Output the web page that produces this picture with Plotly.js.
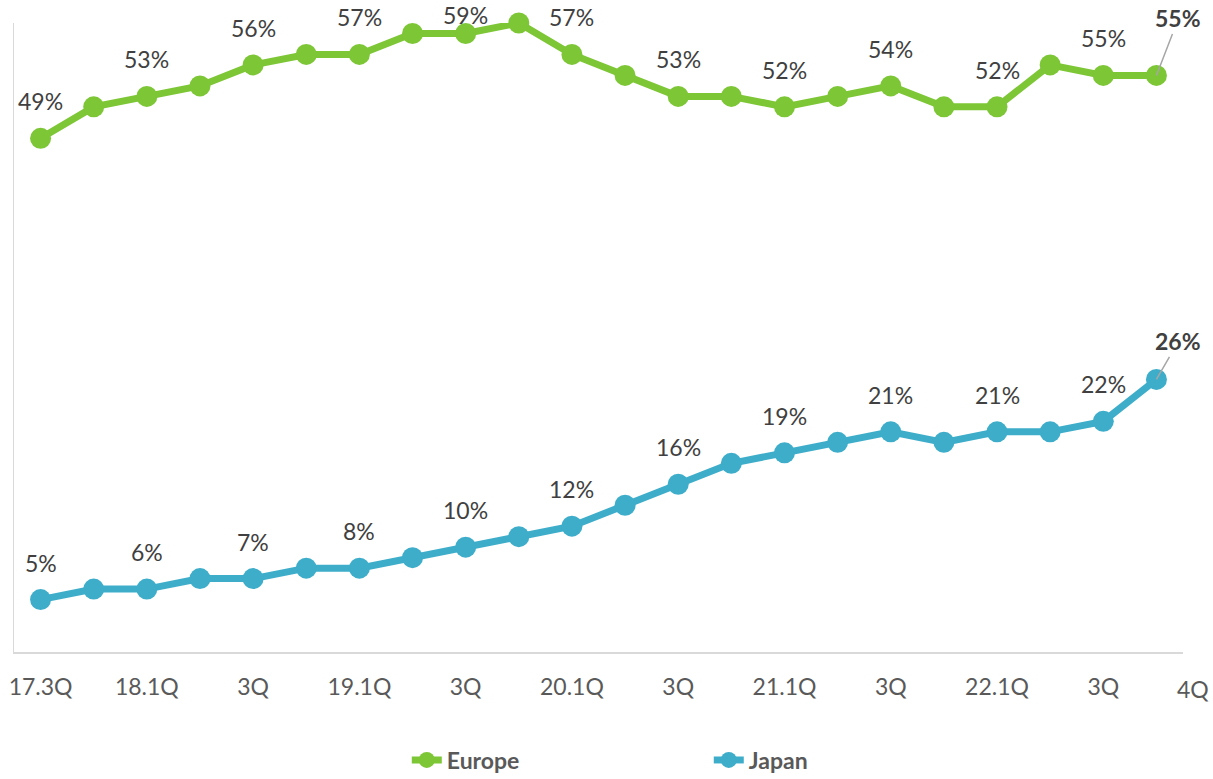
<!DOCTYPE html>
<html>
<head>
<meta charset="utf-8">
<script src="https://cdn.plot.ly/plotly-3.0.1.min.js"></script>
<style>html,body{margin:0;padding:0;background:#fff;}#chart{width:1213px;height:779px;}</style>
</head>
<body>
<div id="chart"></div>
<script>
var quarters = ["17.3Q","17.4Q","18.1Q","18.2Q","18.3Q","18.4Q","19.1Q","19.2Q","19.3Q","19.4Q","20.1Q","20.2Q","20.3Q","20.4Q","21.1Q","21.2Q","21.3Q","21.4Q","22.1Q","22.2Q","22.3Q","22.4Q"];
var tickLabels = ["17.3Q","","18.1Q","","3Q","","19.1Q","","3Q","","20.1Q","","3Q","","21.1Q","","3Q","","22.1Q","","3Q","4Q"];
var europe = [49,52,53,54,56,57,57,59,59,60,57,55,53,53,52,53,54,52,52,56,55,55];
var japan  = [5,6,6,7,7,8,8,9,10,11,12,14,16,18,19,20,21,20,21,21,22,26];

var GREEN = "#7DC636", BLUE = "#3DADCA";
var FONT = "Lato, 'Open Sans', sans-serif";
var LABEL_COLOR = "#404040";

var idx = quarters.map(function(_, i){ return i; });

var M = {l:14, r:30, t:23, b:127};
var yMax = 60;
var plotH = 779 - M.t - M.b;
function pyOf(v){ return M.t + (yMax - v) / yMax * plotH; }

var annotations = [];
function addLabels(vals){
  var last = vals.length - 1;
  vals.forEach(function(v, i){
    if (i % 2 === 0 && i !== last) {
      var py = pyOf(v);
      var shift = Math.min(37, py - 15);
      annotations.push({x:i, y:v, xref:"x", yref:"y", text:v+"%", showarrow:false,
        yshift:shift, xanchor:"center", yanchor:"middle",
        font:{family:FONT, size:23, color:LABEL_COLOR}});
    }
  });
  annotations.push({x:last, y:vals[last], xref:"x", yref:"y", text:"<b>"+vals[last]+"%</b>",
    showarrow:true, arrowhead:0, arrowwidth:1.5, arrowcolor:"#A6A6A6",
    ax: 22, ay: (vals === europe ? -57 : -38), standoff:0, startstandoff:0,
    font:{family:FONT, size:23, color:LABEL_COLOR}});
}
addLabels(europe);
addLabels(japan);

// last category label ("4Q") sits just past the plot edge in the original
annotations.push({x:(21.68+0.5)/22, y:0, xref:"paper", yref:"paper", yshift:-37,
  text:tickLabels[21], showarrow:false, xanchor:"center", yanchor:"middle",
  font:{family:FONT, size:23, color:"#595959"}});

var traces = [
  {x:idx, y:europe, name:"Europe", type:"scatter", mode:"lines+markers",
   line:{color:GREEN, width:7}, marker:{color:GREEN, size:21}, cliponaxis:false},
  {x:idx, y:japan, name:"Japan", type:"scatter", mode:"lines+markers",
   line:{color:BLUE, width:7}, marker:{color:BLUE, size:21}, cliponaxis:false}
];

var tv = [], tt = [];
tickLabels.forEach(function(t, i){ if (t && i !== 21) { tv.push(i); tt.push(t); } });

var layout = {
  width:1213, height:779,
  margin:M,
  paper_bgcolor:"#fff", plot_bgcolor:"#fff",
  showlegend:true,
  xaxis:{range:[-0.5, 21.5], tickvals:tv, ticktext:tt, showgrid:false, zeroline:false,
    showline:true, linecolor:"#D9D9D9", linewidth:1.5, ticks:"", ticklabelstandoff:14,
    tickfont:{family:FONT, size:23, color:"#595959"}, fixedrange:true, automargin:false},
  yaxis:{range:[0, yMax], showgrid:false, zeroline:false, showticklabels:false,
    showline:true, linecolor:"#D9D9D9", linewidth:1.5, ticks:"", fixedrange:true, automargin:false},
  legend:{orientation:"h", x:0.336, xanchor:"left", yref:"container", y:(779-760)/779, yanchor:"middle",
    entrywidth:257, entrywidthmode:"pixels",
    font:{family:FONT, size:23, color:"#595959", weight:"bold"}},
  annotations:annotations
};

Plotly.newPlot("chart", traces, layout, {displayModeBar:false, staticPlot:true});
</script>
</body>
</html>
